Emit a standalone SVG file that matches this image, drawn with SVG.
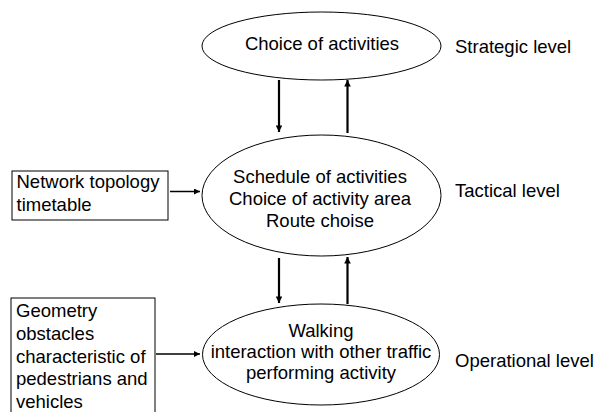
<svg xmlns="http://www.w3.org/2000/svg" width="605" height="412" viewBox="0 0 605 412">
<defs>
<style>
text{font-family:"Liberation Sans",Arial,sans-serif;font-size:18.5px;fill:#000}
.c{text-anchor:middle}
.n{fill:#fff;stroke:#000;stroke-width:1}
.v{stroke:#000;stroke-width:2.2;fill:none}
.h{stroke:#000;stroke-width:1.5;fill:none}
</style>
<marker id="av" viewBox="0 0 10 10" refX="10" refY="5" markerWidth="3.2" markerHeight="3" orient="auto" markerUnits="strokeWidth"><path d="M0,0L10,5L0,10z" fill="#000"/></marker>
<marker id="ah" viewBox="0 0 10 10" refX="10" refY="5" markerWidth="4.5" markerHeight="4" orient="auto" markerUnits="strokeWidth"><path d="M0,0L10,5L0,10z" fill="#000"/></marker>
</defs>
<rect width="605" height="412" fill="#fff"/>
<g id="connectors">
<line class="v" x1="279" y1="80" x2="279" y2="132" marker-end="url(#av)"/>
<line class="v" x1="347.5" y1="133" x2="347.5" y2="80" marker-end="url(#av)"/>
<line class="v" x1="279" y1="258" x2="279" y2="303" marker-end="url(#av)"/>
<line class="v" x1="347.5" y1="304" x2="347.5" y2="257" marker-end="url(#av)"/>
<line class="h" x1="170" y1="191.5" x2="200" y2="191.5" marker-end="url(#ah)"/>
<line class="h" x1="156" y1="354" x2="200" y2="354" marker-end="url(#ah)"/>
</g>
<g id="strategic">
<ellipse class="n" cx="321.5" cy="46" rx="119.5" ry="34"/>
<text class="c" x="322" y="50">Choice of activities</text>
</g>
<g id="tactical">
<ellipse class="n" cx="321.5" cy="195.5" rx="119.5" ry="60.5"/>
<text class="c" x="320" y="183">Schedule of activities</text>
<text class="c" x="320" y="205">Choice of activity area</text>
<text class="c" x="320" y="227">Route choise</text>
</g>
<g id="operational">
<ellipse class="n" cx="321" cy="354.5" rx="118.5" ry="50.5"/>
<text class="c" x="321" y="337">Walking</text>
<text class="c" x="321" y="358">interaction with other traffic</text>
<text class="c" x="321" y="379">performing activity</text>
</g>
<g id="network-box">
<rect class="n" x="12" y="171" width="156" height="49"/>
<text x="16.5" y="188">Network topology</text>
<text x="16.5" y="211">timetable</text>
</g>
<g id="geometry-box">
<rect class="n" x="11" y="298" width="144" height="130"/>
<text x="16" y="317">Geometry</text>
<text x="16" y="340">obstacles</text>
<text x="16" y="362.5">characteristic of</text>
<text x="16" y="385">pedestrians and</text>
<text x="16" y="407.5">vehicles</text>
</g>
<g id="labels">
<text x="455" y="53">Strategic level</text>
<text x="455" y="197">Tactical level</text>
<text x="455" y="367">Operational level</text>
</g>
</svg>
